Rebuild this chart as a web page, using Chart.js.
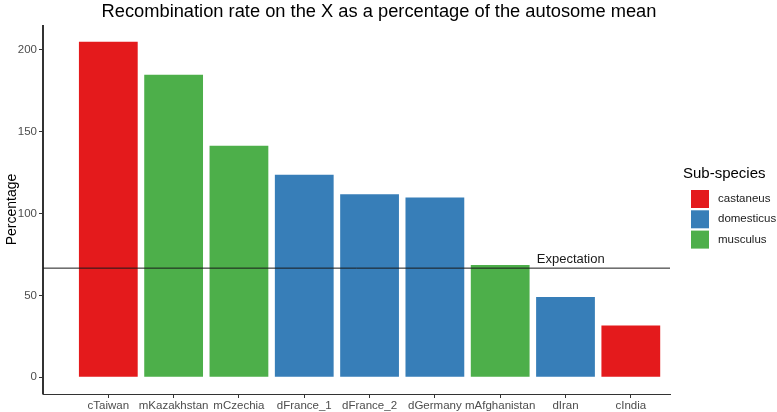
<!DOCTYPE html>
<html>
<head>
<meta charset="utf-8">
<script src="https://cdn.jsdelivr.net/npm/chart.js@4"></script>
<style>
    html, body { margin: 0; padding: 0; background: #fff; }
    #wrap { width: 777px; height: 412px; }
</style>
</head>
<body>
<div id="wrap"><canvas id="myChart" width="777" height="412"></canvas></div>
<script>
// datos
const populations = ['cTaiwan', 'mKazakhstan', 'mCzechia', 'dFrance_1', 'dFrance_2', 'dGermany', 'mAfghanistan', 'dIran', 'cIndia'];
const percentages = [205, 184.8, 141.5, 123.8, 111.8, 109.8, 68.6, 49, 31.6];
const subspecies = ['castaneus', 'musculus', 'musculus', 'domesticus', 'domesticus', 'domesticus', 'musculus', 'domesticus', 'castaneus'];
const subspeciesNames = ['castaneus', 'domesticus', 'musculus'];
const yTicks = [0, 50, 100, 150, 200];
const expectation = 66.67;

(() => {
    const colores = { castaneus: '#E41A1C', domesticus: '#377EB8', musculus: '#4DAF4A' };
    const ctx = document.getElementById('myChart').getContext('2d');
    const fuente = "'Liberation Sans', Arial, sans-serif";

    const barData = populations.map((p, i) => ({ x: i + 1, y: percentages[i] }));

    // titulo, eje y, etiqueta y leyenda dibujados a mano
    const extras = {
        id: 'extras',
        afterDraw(chart) {
            const c = chart.ctx;
            const x = chart.scales.x, y = chart.scales.y;
            const area = chart.chartArea;
            c.save();
            // linea del eje y
            c.strokeStyle = '#333';
            c.lineWidth = 1;
            c.beginPath();
            c.moveTo(Math.round(area.left) - 0.5, area.top);
            c.lineTo(Math.round(area.left) - 0.5, area.bottom + 0.5);
            c.stroke();

            c.fillStyle = '#000';
            c.textBaseline = 'middle';
            c.textAlign = 'center';
            c.font = '18.3px ' + fuente;
            c.fillText('Recombination rate on the X as a percentage of the autosome mean', 379, 12);

            c.font = '13px ' + fuente;
            c.fillStyle = '#1a1a1a';
            c.fillText('Expectation', x.getPixelForValue(8.08), y.getPixelForValue(72.2));

            c.textAlign = 'left';
            c.fillStyle = '#000';
            c.font = '15px ' + fuente;
            c.fillText('Sub-species', 683, 174);
            c.font = '11.5px ' + fuente;
            subspeciesNames.forEach((s, i) => {
                const top = 190 + i * 20.3;
                c.fillStyle = colores[s];
                c.fillRect(691, top, 18, 18);
                c.fillStyle = '#1a1a1a';
                c.fillText(s, 718, top + 9);
            });
            c.restore();
        }
    };

    const grafica = new Chart(ctx, {
        data: {
            datasets: [
                {
                    type: 'line',
                    label: 'Expectation',
                    data: [{ x: 0, y: expectation }, { x: 9.6, y: expectation }],
                    borderColor: '#1a1a1a',
                    borderWidth: 1,
                    pointRadius: 0,
                    order: 0
                },
                {
                    type: 'bar',
                    label: 'Percentage',
                    data: barData,
                    backgroundColor: subspecies.map(s => colores[s]),
                    borderWidth: 0,
                    barPercentage: 0.9,
                    categoryPercentage: 1.0,
                    order: 1
                }
            ]
        },
        options: {
            responsive: false,
            animation: false,
            layout: { padding: { top: 25, right: 107, left: 0, bottom: 0 } },
            plugins: {
                legend: { display: false },
                tooltip: { enabled: false },
                title: { display: false }
            },
            scales: {
                x: {
                    type: 'linear',
                    min: 0,
                    max: 9.6,
                    offset: false,
                    afterBuildTicks: axis => { axis.ticks = populations.map((p, i) => ({ value: i + 1 })); },
                    afterFit: axis => { axis.height = 18; },
                    ticks: {
                        autoSkip: false,
                        maxRotation: 0,
                        padding: 1,
                        color: '#4D4D4D',
                        font: { family: fuente, size: 11.5 },
                        callback: v => populations[v - 1] || ''
                    },
                    grid: { offset: false, drawOnChartArea: false, drawTicks: true, tickLength: 4, tickColor: '#333' },
                    border: { display: true, color: '#333', width: 1 }
                },
                y: {
                    min: -10.25,
                    max: 215.25,
                    afterBuildTicks: axis => { axis.ticks = yTicks.map(v => ({ value: v })); },
                    afterFit: axis => { axis.width = 43; },
                    ticks: {
                        padding: 2,
                        color: '#4D4D4D',
                        font: { family: fuente, size: 11.5 }
                    },
                    title: {
                        display: true,
                        text: 'Percentage',
                        color: '#000',
                        font: { family: fuente, size: 14 },
                        padding: { top: 4, bottom: 0 }
                    },
                    grid: { drawOnChartArea: false, drawTicks: true, tickLength: 4, tickColor: '#333' },
                    border: { display: true, color: '#333', width: 1 }
                }
            }
        },
        plugins: [extras]
    });
})();
</script>
</body>
</html>
